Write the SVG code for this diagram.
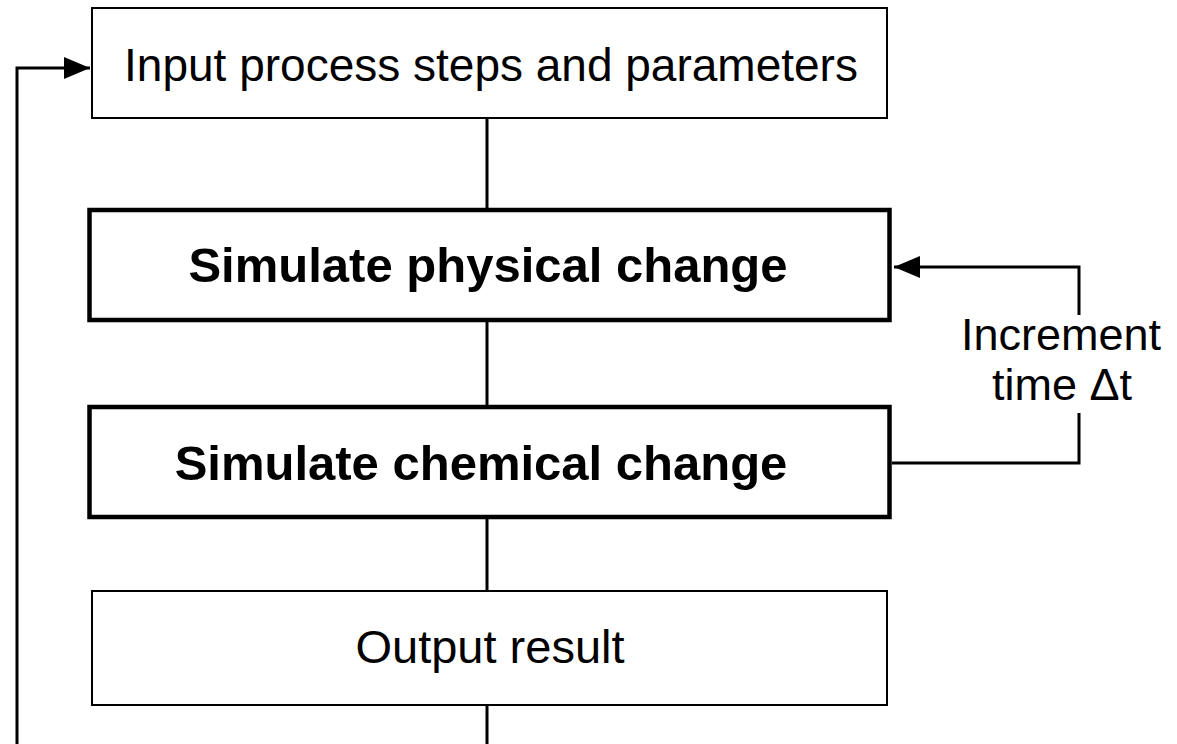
<svg xmlns="http://www.w3.org/2000/svg" width="1177" height="744" viewBox="0 0 1177 744">
<style>
.thin{fill:#fff;stroke:#000;stroke-width:2}
.thick{fill:#fff;stroke:#000;stroke-width:4.5}
.t{font-family:"Liberation Sans",Arial,sans-serif;font-size:47px;fill:#000;text-anchor:middle}
.b{font-weight:bold;font-size:49px}
.s{font-size:45px}
.c{fill:none;stroke:#000;stroke-width:3}
</style>
<defs>
<marker id="ah2" markerWidth="26" markerHeight="22" refX="26" refY="11" orient="auto" markerUnits="userSpaceOnUse" viewBox="0 0 26 22">
<path d="M0,0 L26,11 L0,22 Z" fill="#000"/>
</marker>
</defs>
<g id="connectors">
<line class="c" x1="487" y1="119" x2="487" y2="209"/>
<line class="c" x1="487" y1="322" x2="487" y2="406"/>
<line class="c" x1="487" y1="518" x2="487" y2="590"/>
<line class="c" x1="487" y1="705" x2="487" y2="744"/>
<polyline class="c" points="17,744 17,68 90,68" marker-end="url(#ah2)"/>
<polyline class="c" points="892,463 1079,463 1079,413"/>
<polyline class="c" points="1079,315 1079,267 894,267" marker-end="url(#ah2)"/>
</g>
<g id="input">
<rect class="thin" x="92" y="8" width="795" height="110"/>
<text class="t" x="491" y="81" style="font-size:46px">Input process steps and parameters</text>
</g>
<g id="physical">
<rect class="thick" x="89.5" y="210" width="800" height="110"/>
<text class="t b" x="488" y="282">Simulate physical change</text>
</g>
<g id="chemical">
<rect class="thick" x="89.5" y="407" width="800" height="110"/>
<text class="t b" x="481" y="480">Simulate chemical change</text>
</g>
<g id="output">
<rect class="thin" x="92" y="591" width="795" height="114"/>
<text class="t" x="490" y="663">Output result</text>
</g>
<g id="label">
<text class="t s" x="1061" y="350">Increment</text>
<text class="t s" x="1062" y="400">time Δt</text>
</g>
</svg>
